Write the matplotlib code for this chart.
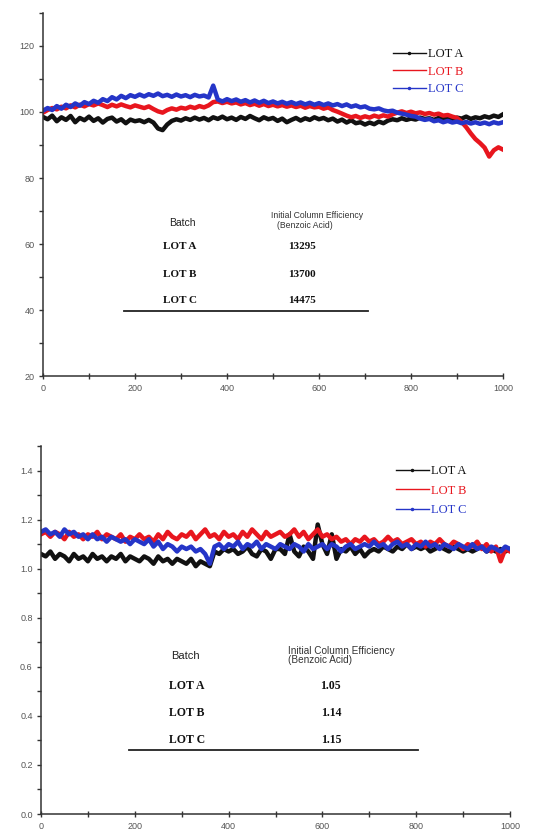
import numpy as np
import matplotlib.pyplot as plt
from matplotlib.ticker import MultipleLocator
from matplotlib.lines import Line2D

x_top = np.arange(0, 1001, 10)

top_lot_a = [98.5, 97.8, 98.9, 97.2, 98.4, 97.6, 98.8, 96.9, 98.2, 97.5, 98.6,
             97.3, 98.1, 96.8, 97.9, 98.3, 97.1, 97.8, 96.6, 97.7, 97.2,
             97.5, 96.9, 97.6, 96.8, 95.0, 94.5, 96.2, 97.3, 97.8, 97.4,
             98.1, 97.6, 98.3, 97.7, 98.2, 97.5, 98.4, 97.9, 98.6, 97.8,
             98.3, 97.6, 98.5, 97.9, 98.8, 98.1, 97.5, 98.4, 97.8, 98.2,
             97.3, 98.0, 96.9, 97.6, 98.2, 97.4, 98.1, 97.6, 98.4, 97.8,
             98.2, 97.5, 98.0, 97.1, 97.7, 96.8, 97.5, 96.6, 96.9, 96.2,
             96.8, 96.3, 97.1, 96.6, 97.4, 97.8, 97.5, 98.1, 97.6, 98.0,
             97.7, 98.3, 97.9, 98.1, 97.6, 98.2, 97.9, 98.5, 97.8, 98.3,
             98.0, 98.6, 97.9, 98.4, 98.1, 98.7, 98.3, 98.9, 98.5, 99.3]

top_lot_b = [99.8, 100.6, 101.2, 100.8, 101.6, 101.1, 102.0, 101.4, 102.2, 101.7, 102.4,
             102.0, 102.6, 102.1, 101.5, 102.2, 101.7, 102.3, 101.8, 101.4, 102.0,
             101.6, 101.2, 101.7, 100.9, 100.2, 99.8, 100.6, 101.1, 100.7, 101.3,
             101.0, 101.6, 101.2, 101.8, 101.4, 102.0, 103.0, 103.2, 102.7, 103.1,
             102.6, 102.9, 102.3, 102.7, 102.1, 102.5, 101.9, 102.4, 101.8, 102.2,
             101.7, 102.1, 101.6, 102.0, 101.5, 101.9, 101.3, 101.8, 101.4, 101.6,
             101.0, 101.4, 100.6, 100.1, 99.5, 98.9, 98.4, 98.8, 98.2, 98.7,
             98.3, 98.9, 98.5, 99.0, 98.6, 99.3, 99.8, 100.2, 99.7, 100.1,
             99.6, 99.9, 99.4, 99.7, 99.2, 99.5, 98.9, 99.1, 98.6, 98.2,
             97.0, 95.4, 93.5, 91.8, 90.6, 89.2, 86.5, 88.4, 89.3, 88.6]

top_lot_c = [100.4, 101.2, 100.6, 101.8, 101.0, 102.2, 101.5, 102.6, 101.9, 103.0, 102.4,
             103.4, 102.8, 103.9, 103.3, 104.5, 103.8, 104.9, 104.2, 105.1, 104.6,
             105.3, 104.7, 105.4, 104.9, 105.6, 104.8, 105.2, 104.6, 105.3, 104.7,
             105.1, 104.5, 105.2, 104.7, 105.0, 104.4, 108.0, 103.8, 103.2, 103.9,
             103.3, 103.8, 103.1, 103.6, 102.9, 103.5, 102.8, 103.4, 102.7, 103.2,
             102.6, 103.1, 102.5, 103.0, 102.4, 102.9, 102.3, 102.8, 102.2, 102.7,
             102.1, 102.6, 102.0, 102.4, 101.8, 102.3, 101.6, 102.0, 101.4, 101.7,
             101.0, 100.8, 101.1, 100.5, 100.2, 100.4, 99.8, 99.5, 99.2, 98.8,
             98.6, 98.0, 97.6, 97.9, 97.2, 97.5, 96.9, 97.3, 96.8, 97.1,
             96.6, 97.0, 96.5, 96.9, 96.4, 96.8, 96.3, 96.9, 96.5, 96.9]

x_bot = np.arange(0, 1001, 10)

bot_lot_a = [1.06, 1.05, 1.07, 1.04, 1.06, 1.05, 1.03, 1.06, 1.04, 1.05, 1.03,
             1.06, 1.04, 1.05, 1.03, 1.05, 1.04, 1.06, 1.03, 1.05, 1.04,
             1.03, 1.05, 1.04, 1.02, 1.05, 1.03, 1.04, 1.02, 1.04, 1.03,
             1.02, 1.04, 1.01, 1.03, 1.02, 1.01, 1.07, 1.06, 1.08, 1.07,
             1.08, 1.06, 1.07, 1.09, 1.06, 1.05, 1.08, 1.07, 1.04, 1.08,
             1.08, 1.06, 1.14, 1.07, 1.05, 1.09, 1.07, 1.04, 1.18, 1.10,
             1.06, 1.14, 1.04, 1.08, 1.07, 1.09, 1.06, 1.08, 1.05, 1.07,
             1.08, 1.07, 1.09, 1.08, 1.07, 1.09, 1.08, 1.10, 1.08, 1.09,
             1.08, 1.09, 1.07, 1.08, 1.09, 1.08, 1.07, 1.09, 1.08, 1.07,
             1.08, 1.07, 1.08, 1.09, 1.07, 1.08, 1.07, 1.08, 1.07, 1.08]

bot_lot_b = [1.14, 1.15, 1.13, 1.15, 1.14, 1.12, 1.15, 1.13, 1.14, 1.12, 1.14,
             1.13, 1.15, 1.12, 1.14, 1.13, 1.12, 1.14, 1.11, 1.13, 1.12,
             1.14, 1.12, 1.13, 1.11, 1.14, 1.12, 1.15, 1.13, 1.12, 1.14,
             1.13, 1.15, 1.12, 1.14, 1.16, 1.13, 1.14, 1.12, 1.15, 1.13,
             1.14, 1.12, 1.15, 1.13, 1.16, 1.14, 1.12, 1.15, 1.13, 1.14,
             1.15, 1.13, 1.14, 1.16, 1.13, 1.15, 1.12, 1.14, 1.16, 1.13,
             1.14, 1.12, 1.13, 1.11, 1.12, 1.10, 1.12, 1.11, 1.13, 1.11,
             1.12, 1.10, 1.11, 1.13, 1.11, 1.12, 1.10, 1.11, 1.12, 1.10,
             1.11, 1.09, 1.11, 1.10, 1.12, 1.10, 1.09, 1.11, 1.10, 1.08,
             1.10, 1.09, 1.11, 1.08, 1.10, 1.07, 1.09, 1.03, 1.08, 1.07]

bot_lot_c = [1.15, 1.16, 1.14, 1.15, 1.13, 1.16, 1.14, 1.15, 1.13, 1.14, 1.12,
             1.14, 1.12, 1.13, 1.11, 1.13, 1.12, 1.11, 1.12, 1.10, 1.12,
             1.11, 1.10, 1.12, 1.09, 1.11, 1.08, 1.10, 1.09, 1.07, 1.09,
             1.08, 1.09, 1.07, 1.08, 1.06, 1.02, 1.09, 1.10, 1.08, 1.10,
             1.09, 1.11, 1.08, 1.10, 1.09, 1.11, 1.08, 1.10, 1.09, 1.08,
             1.10, 1.09, 1.08, 1.10, 1.09, 1.07, 1.10, 1.08, 1.09, 1.10,
             1.08, 1.10, 1.09, 1.07, 1.09, 1.10, 1.08, 1.09, 1.10, 1.09,
             1.11, 1.09, 1.10, 1.08, 1.10, 1.11, 1.09, 1.10, 1.08, 1.10,
             1.09, 1.11, 1.09, 1.10, 1.08, 1.10, 1.09, 1.08, 1.10, 1.09,
             1.08, 1.10, 1.08, 1.09, 1.07, 1.09, 1.08, 1.07, 1.09, 1.08]

lots = ["LOT A", "LOT B", "LOT C"]
top_table = ["13295", "13700", "14475"]
bot_table = ["1.05", "1.14", "1.15"]

colors = ["#111111", "#e8161e", "#2535c8"]
markers = [".", None, "."]

W, H = 555, 830
fig = plt.figure(figsize=(W / 100, H / 100), dpi=100)


def px(x, y):
    return x / W, 1 - y / H


def style_axes(ax, xmaj, ymaj, ymin):
    for s in ["top", "right"]:
        ax.spines[s].set_visible(False)
    for s in ["left", "bottom"]:
        ax.spines[s].set_color("#333333")
        ax.spines[s].set_linewidth(1.1)
    ax.xaxis.set_major_locator(MultipleLocator(xmaj))
    ax.xaxis.set_minor_locator(MultipleLocator(xmaj / 2))
    ax.yaxis.set_major_locator(MultipleLocator(ymaj))
    ax.yaxis.set_minor_locator(MultipleLocator(ymin))
    ax.tick_params(axis="x", which="both", direction="inout", length=5, width=1, color="#333333")
    ax.tick_params(axis="y", which="both", direction="out", length=3, width=1, color="#333333")
    ax.tick_params(labelsize=6.5, labelcolor="#555555", pad=3)
    for lab in ax.get_xticklabels() + ax.get_yticklabels():
        lab.set_fontfamily("Liberation Sans")


def add_table(ax, batch_xy, head_xy, head_dy, lot_x, val_x, rows_y, vals, line_x, line_y,
              head_size, lot_size):
    ax.text(batch_xy[0], batch_xy[1], "Batch", ha="center", va="center",
            fontsize=lot_size - 0.5, family="Liberation Sans", color="#222222")
    ax.text(head_xy[0], head_xy[1], "Initial Column Efficiency", ha="left", va="center",
            fontsize=head_size, family="Liberation Sans", color="#333333")
    ax.text(head_xy[0] + head_dy[0], head_xy[1] - head_dy[1], "(Benzoic Acid)", ha="left",
            va="center", fontsize=head_size, family="Liberation Sans", color="#333333")
    for lot, val, yy in zip(lots, vals, rows_y):
        ax.text(lot_x, yy, lot, ha="center", va="center", fontsize=lot_size,
                family="Liberation Serif", weight="bold", color="#111111")
        ax.text(val_x, yy, val, ha="center", va="center", fontsize=lot_size,
                family="Liberation Serif", weight="bold", color="#111111")
    ax.plot(line_x, [line_y, line_y], color="#222222", lw=1.3)


# ---- top panel ----
ax1 = fig.add_axes([43 / W, 1 - 376 / H, (503 - 43) / W, (376 - 13) / H])
for ys, c, lab in zip([top_lot_a, top_lot_b, top_lot_c], colors, lots):
    ax1.plot(x_top, ys, color=c, lw=3.2, label=lab)
ax1.set_xlim(0, 1000)
ax1.set_ylim(20, 130)
style_axes(ax1, 200, 20, 10)
add_table(ax1, (304, 66.4), (496, 68.5), (13, 2.8), 298, 563, [59.1, 50.9, 43.0],
          top_table, [176, 707], 39.7, 6.2, 8)

# ---- bottom panel ----
ax2 = fig.add_axes([41 / W, 1 - 814 / H, (510 - 41) / W, (814 - 446) / H])
for ys, c, lab in zip([bot_lot_a, bot_lot_b, bot_lot_c], colors, lots):
    ax2.plot(x_bot, ys, color=c, lw=3.2, label=lab)
ax2.set_xlim(0, 1000)
ax2.set_ylim(0, 1.5)
style_axes(ax2, 200, 0.2, 0.1)
add_table(ax2, (307, 0.645), (527, 0.665), (0, 0.036), 311, 618, [0.522, 0.412, 0.302],
          bot_table, [188, 804], 0.261, 7.2, 8.5)


# legends with thin line handles and a dot marker for A and C
def legend_for(ax, anchor, spacing):
    handles = [Line2D([], [], color=c, lw=1.0, marker=m, markersize=3) for c, m in zip(colors, markers)]
    ax.legend(handles, lots, loc="upper left", bbox_to_anchor=px(*anchor),
              bbox_transform=fig.transFigure, frameon=False, borderpad=0, borderaxespad=0,
              handlelength=2.6, handletextpad=0.2, labelspacing=spacing,
              prop={"family": "Liberation Serif", "size": 9}, labelcolor=colors)


legend_for(ax1, (393, 48), 0.45)
legend_for(ax2, (396, 465), 0.6)

fig.savefig("out.png", dpi=100)
